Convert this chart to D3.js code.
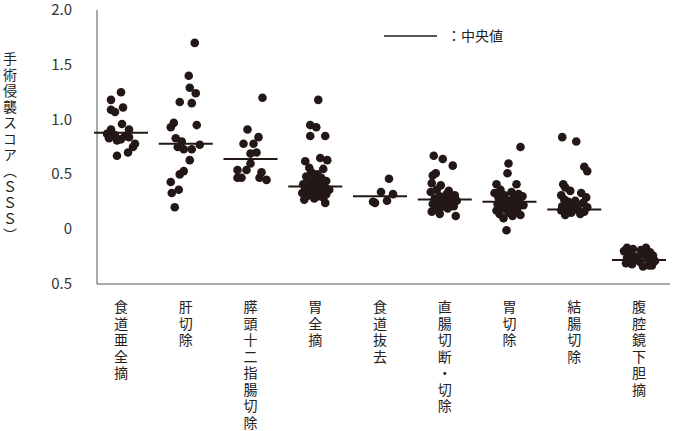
<!DOCTYPE html>
<meta charset="utf-8">
<head>
<script src="https://d3js.org/d3.v7.min.js"></script>
<style>
  body { margin: 0; background: #fff; }
  text { font-family: "Noto Sans CJK JP", "Noto Sans", sans-serif; }
</style>
</head>
<body>
<div id="chart"></div>
<script>
// categories (surgery types)
var categories = ["食道亜全摘", "肝切除", "膵頭十二指腸切除", "胃全摘", "食道抜去",
                  "直腸切断・切除", "胃切除", "結腸切除", "腹腔鏡下胆摘"];

// median SSS per category
var medians = [0.88, 0.78, 0.64, 0.39, 0.30, 0.27, 0.25, 0.18, -0.28];

// SSS values per category, and jitter offsets (px-ish units)
var values = [
  [1.25,1.18,1.11,1.09,1.07,0.96,0.91,0.91,0.87,0.86,0.85,0.84,0.83,0.82,0.81,0.78,0.75,0.70,0.67],
  [1.70,1.40,1.29,1.24,1.16,1.15,0.95,0.97,0.93,0.83,0.80,0.77,0.75,0.73,0.73,0.63,0.53,0.50,0.43,0.36,0.33,0.20],
  [1.20,0.91,0.84,0.78,0.78,0.70,0.69,0.60,0.54,0.54,0.52,0.47,0.47,0.47,0.45],
  [1.18,0.95,0.93,0.85,0.85,0.65,0.63,0.62,0.56,0.55,0.52,0.50,0.48,0.47,0.45,0.44,0.43,0.42,0.41,0.40,0.40,0.39,0.38,0.37,0.37,0.36,0.35,0.35,0.34,0.33,0.33,0.32,0.31,0.30,0.30,0.29,0.28,0.27,0.24],
  [0.46,0.34,0.32,0.26,0.25,0.24],
  [0.67,0.64,0.58,0.51,0.49,0.42,0.40,0.36,0.35,0.34,0.32,0.31,0.30,0.29,0.28,0.27,0.26,0.25,0.24,0.23,0.22,0.21,0.20,0.19,0.18,0.16,0.14,0.12],
  [0.75,0.60,0.51,0.41,0.41,0.36,0.34,0.33,0.32,0.31,0.30,0.29,0.28,0.27,0.26,0.25,0.25,0.24,0.23,0.22,0.22,0.21,0.20,0.19,0.18,0.17,0.16,0.15,0.14,0.13,0.12,0.10,-0.01],
  [0.84,0.80,0.57,0.53,0.41,0.38,0.35,0.33,0.31,0.29,0.27,0.26,0.25,0.24,0.23,0.22,0.21,0.20,0.19,0.18,0.17,0.16,0.15,0.14,0.13],
  [-0.17,-0.18,-0.17,-0.19,-0.20,-0.21,-0.22,-0.23,-0.24,-0.25,-0.26,-0.27,-0.28,-0.29,-0.30,-0.31,-0.32,-0.33,-0.34,-0.33]
];
var jitter = [
  [0,-10,2,-10,-6,1,-10,8,-14,-6,4,8,-12,0,-4,14,12,7,-4],
  [9,3,4,10,-6,6,11,-12,-15,-10,-4,14,-8,6,-2,4,-2,-6,-15,-7,-14,-11],
  [12,-3,8,-7,3,6,0,0,-13,-4,11,-13,-9,9,16],
  [3,-5,1,-5,10,5,12,-10,-6,8,-4,2,-9,6,-2,11,-7,4,-12,0,9,-5,5,-10,2,14,-3,-8,7,-13,1,11,-6,4,-9,8,-1,-11,10],
  [9,1,13,7,-7,-5],
  [-11,-2,8,-9,-12,-13,-4,-8,4,-14,2,10,-5,7,-10,-1,12,5,-7,-12,0,9,-4,3,-10,-13,-5,11],
  [11,-1,-2,-13,7,-9,2,-15,9,-5,13,-11,4,-7,0,10,-3,6,-12,-6,14,2,-9,8,-3,-13,5,-1,-10,11,3,-6,-3],
  [-12,2,10,13,-11,-9,-4,7,-13,12,-10,1,-6,9,-2,4,-12,13,-7,0,-13,10,-3,6,-9],
  [-12,-6,7,2,-15,11,-9,5,14,-2,-12,8,-5,16,1,-13,-7,10,4,13]
];
var yTicks = [2.0, 1.5, 1.0, 0.5, 0, -0.5];

var W = 680, H = 431;
var svg = d3.select("#chart").append("svg").attr("width", W).attr("height", H);

var y = d3.scaleLinear().domain([-0.5, 2.0]).range([284, 10]);
var x = d3.scalePoint().domain(categories).range([121, 639]);

// axes lines
svg.append("line").attr("x1", 97).attr("x2", 97).attr("y1", y(2.0)).attr("y2", y(-0.5))
  .attr("stroke", "#555").attr("stroke-width", 1);
svg.append("line").attr("x1", 97).attr("x2", 670).attr("y1", y(-0.5)).attr("y2", y(-0.5))
  .attr("stroke", "#555").attr("stroke-width", 1);

// y tick labels (the original shows the bottom one without a minus)
svg.selectAll(".yt").data(yTicks).enter().append("text")
  .attr("x", 72).attr("y", function(d){ return y(d) + 5; })
  .attr("text-anchor", "end").attr("font-size", 15).attr("fill", "#333")
  .text(function(d){ return d === 0 ? "0" : Math.abs(d).toFixed(1); });

// y axis title
svg.append("text")
  .attr("x", 10).attr("y", 52)
  .attr("font-size", 14).attr("fill", "#222")
  .style("writing-mode", "vertical-rl")
  .style("letter-spacing", "2px")
  .text("手術侵襲スコア（ＳＳＳ）");

// points
categories.forEach(function(c, i){
  svg.append("g").selectAll("circle").data(values[i]).enter().append("circle")
    .attr("cx", function(d, j){ return x(c) + jitter[i][j]; })
    .attr("cy", function(d){ return y(d); })
    .attr("r", 4.3)
    .attr("fill", "#231815");
});

// median lines
svg.selectAll(".med").data(medians).enter().append("line")
  .attr("x1", function(d, i){ return x(categories[i]) - 27; })
  .attr("x2", function(d, i){ return x(categories[i]) + 27; })
  .attr("y1", function(d){ return y(d); })
  .attr("y2", function(d){ return y(d); })
  .attr("stroke", "#231815").attr("stroke-width", 2);

// category labels (vertical)
categories.forEach(function(c){
  var t = svg.append("text").attr("font-size", 14).attr("fill", "#222").attr("text-anchor", "middle");
  c.split("").forEach(function(ch, k){
    t.append("tspan").attr("x", x(c)).attr("y", 312 + k * 16.5).text(ch);
  });
});

// legend
svg.append("line").attr("x1", 384).attr("x2", 437).attr("y1", 36).attr("y2", 36)
  .attr("stroke", "#231815").attr("stroke-width", 1.5);
svg.append("text").attr("x", 447).attr("y", 41).attr("font-size", 14).attr("fill", "#222").text("：中央値");
</script>
</body>
